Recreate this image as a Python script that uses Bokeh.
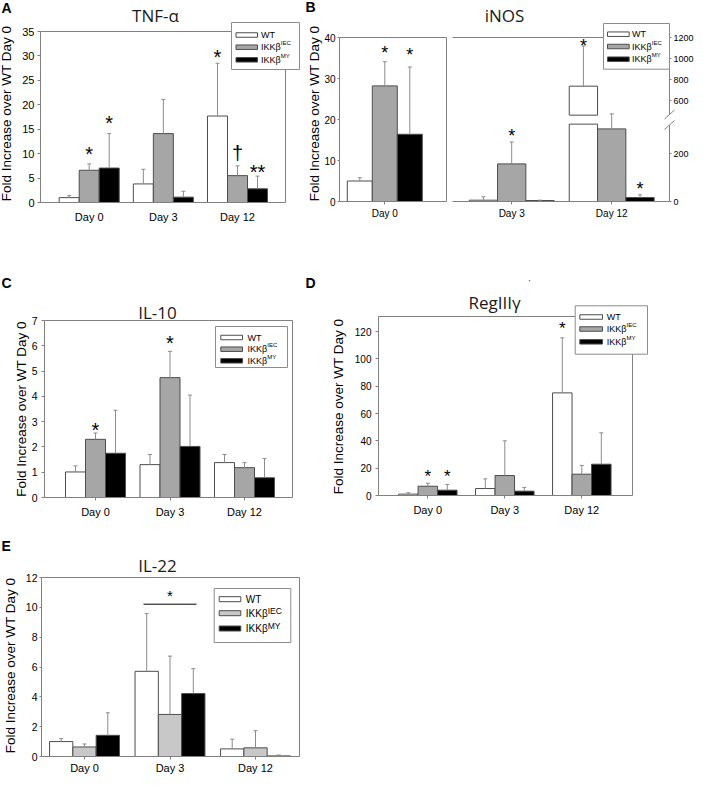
import math
from bokeh.plotting import figure
from bokeh.models import Range1d, LinearAxis, FixedTicker, Label, BoxAnnotation, Arrow
from bokeh.layouts import row, column
from bokeh.embed import file_html
from bokeh.resources import INLINE
from bokeh.core.properties import value

# ---------------- data ----------------
DAYS = ["Day 0", "Day 3", "Day 12"]
GENOTYPES = ["WT", "IKKβ", "IKKβ"]
GENOTYPE_SUPS = ["", "IEC", "MY"]
Y_TITLE = "Fold Increase over WT Day 0"

# A: TNF-alpha
TNF_WT = [1.0, 3.8, 17.7]
TNF_WT_SD = [0.4, 3.0, 10.8]
TNF_IEC = [6.6, 14.1, 5.5]
TNF_IEC_SD = [1.3, 7.0, 2.0]
TNF_MY = [7.05, 1.1, 2.8]
TNF_MY_SD = [7.05, 1.2, 2.6]
TNF_TICKS = [0, 5, 10, 15, 20, 25, 30, 35]
TNF_MARK_DAY = [0, 0, 2, 2, 2]
TNF_MARK_SERIES = [1, 2, 0, 1, 2]
TNF_MARK_TEXT = ["*", "*", "*", "†", "**"]
TNF_MARK_Y = [10.8, 17.05, 30.5, 9.9, 7.05]

# B: iNOS (Day 0 on its own axis, Day 3 / Day 12 on a broken axis)
INOS_WT = [5.0, 5.5, 740.0]
INOS_WT_SD = [0.8, 14.0, 380.0]
INOS_IEC = [28.2, 158.0, 305.0]
INOS_IEC_SD = [5.9, 92.0, 63.0]
INOS_MY = [16.4, 4.2, 16.8]
INOS_MY_SD = [16.4, 1.4, 11.2]
INOS_TICKS_DAY0 = [0, 10, 20, 30, 40]
INOS_TICKS_LOW = [0, 200]
INOS_TICKS_HIGH = [600, 800, 1000, 1200]
INOS_MARK_DAY = [0, 0, 1, 2, 2]
INOS_MARK_SERIES = [1, 2, 1, 0, 2]
INOS_MARK_TEXT = ["*", "*", "*", "*", "*"]
INOS_MARK_Y = [37.0, 36.5, 290.0, 1153.0, 66.0]

# C: IL-10
IL10_WT = [1.01, 1.3, 1.38]
IL10_WT_SD = [0.24, 0.4, 0.32]
IL10_IEC = [2.3, 4.74, 1.18]
IL10_IEC_SD = [0.25, 1.04, 0.2]
IL10_MY = [1.75, 2.02, 0.78]
IL10_MY_SD = [1.7, 2.03, 0.76]
IL10_TICKS = [0, 1, 2, 3, 4, 5, 6, 7]
IL10_MARK_DAY = [0, 1]
IL10_MARK_SERIES = [1, 1]
IL10_MARK_TEXT = ["*", "*"]
IL10_MARK_Y = [2.84, 6.26]

# D: RegIIIgamma
REG_WT = [1.0, 5.1, 75.1]
REG_WT_SD = [1.0, 7.1, 40.3]
REG_IEC = [6.8, 14.6, 15.6]
REG_IEC_SD = [2.2, 25.4, 6.4]
REG_MY = [3.9, 3.2, 22.9]
REG_MY_SD = [4.1, 2.7, 23.0]
REG_TICKS = [0, 20, 40, 60, 80, 100, 120]
REG_MARK_DAY = [0, 0, 2]
REG_MARK_SERIES = [1, 2, 0]
REG_MARK_TEXT = ["*", "*", "*"]
REG_MARK_Y = [16.6, 16.6, 125.0]

# E: IL-22
IL22_WT = [1.0, 5.71, 0.51]
IL22_WT_SD = [0.2, 3.87, 0.65]
IL22_IEC = [0.64, 2.82, 0.58]
IL22_IEC_SD = [0.2, 3.91, 1.15]
IL22_MY = [1.42, 4.22, 0.04]
IL22_MY_SD = [1.51, 1.67, 0.06]
IL22_TICKS = [0, 2, 4, 6, 8, 10, 12]
IL22_BRACKET_DAY = 1
IL22_BRACKET_Y = 10.21
IL22_BRACKET_STAR_Y = 11.0

# ---------------- styles ----------------
FRAME = "#808080"
BAR_LINE = "#4d4d4d"
ERR = "#8c8c8c"
LEG_LINE = "#8c8c8c"
WT_FILL = "white"
IEC_FILL = "#a6a6a6"
IEC_FILL_E = "#c8c8c8"
MY_FILL = "black"
SANS = "Liberation Sans"
TITLE_FONT = "Open Sans"
SHIFT = {"*": -0.2, "**": -0.2, "†": 0.08}


def build(canvas, c_px, c_idx, spacing, base_sy, ppu):
    """Figure whose frame is the whole canvas; X/Y convert reference pixels to data."""
    cx0, cy0, cx1, cy1 = canvas

    def X(sx):
        return c_idx + (sx - c_px) / spacing

    def Y(sy):
        return (base_sy - sy) / ppu

    p = figure(width=cx1 - cx0, height=cy1 - cy0, title=None,
               x_range=Range1d(X(cx0), X(cx1)), y_range=Range1d(Y(cy1), Y(cy0)),
               output_backend="svg", toolbar_location=None, tools="",
               x_axis_location=None, y_axis_location=None,
               min_border_left=0, min_border_right=0, min_border_top=0, min_border_bottom=0)
    p.outline_line_color = None
    p.grid.visible = False
    p.background_fill_color = "white"
    p.border_fill_color = "white"
    return p, X, Y


def axis(p, side, loc, bounds, ticks=(), size="0px", standoff=0, tick_out=0,
         overrides=None, rname=None, line=True):
    kw = {}
    if rname:
        kw["y_range_name"] = rname
    ax = LinearAxis(ticker=FixedTicker(ticks=list(ticks)), fixed_location=loc,
                    bounds=bounds, **kw)
    ax.axis_line_color = FRAME if line else None
    ax.axis_line_width = 1
    ax.major_tick_line_color = FRAME
    ax.major_tick_out = tick_out
    ax.major_tick_in = 0
    ax.minor_tick_out = 0
    ax.minor_tick_in = 0
    ax.major_label_text_font = SANS
    ax.major_label_text_font_size = size
    ax.major_label_text_color = "black"
    ax.major_label_standoff = standoff
    if overrides:
        ax.major_label_overrides = overrides
    p.add_layout(ax, side)


def box_frame(p, X, Y, frame, top_val, sides=("left", "below", "above", "right")):
    fx0, fy0, fx1, fy1 = frame
    if "above" in sides:
        axis(p, "above", Y(fy0), (X(fx0), X(fx1)))
    if "right" in sides:
        axis(p, "right", X(fx1), (0, top_val))


def draw_series(p, idx, vals, sds, fill, xoff, bw, cap, rname="default"):
    xs = [i + xoff for i in idx]
    p.vbar(x=xs, bottom=0, top=vals, width=bw, fill_color=fill,
           line_color=BAR_LINE, line_width=1, y_range_name=rname)
    draw_err(p, xs, vals, sds, cap, rname)


def draw_err(p, xs, vals, sds, cap, rname="default"):
    tops = [v + s for v, s in zip(vals, sds)]
    p.segment(x0=xs, y0=vals, x1=xs, y1=tops, line_color=ERR, line_width=1, y_range_name=rname)
    p.segment(x0=[x - cap for x in xs], y0=tops, x1=[x + cap for x in xs], y1=tops,
              line_color=ERR, line_width=1, y_range_name=rname)


def draw_marks(p, xs, ys, texts, size_px, ppu, rname="default"):
    yy = [y + SHIFT[t] * size_px / ppu for y, t in zip(ys, texts)]
    p.text(x=xs, y=yy, text=texts, text_font=value(SANS), text_font_size=f"{size_px}px",
           text_align="center", text_baseline="middle", text_color="black", y_range_name=rname)


def label(p, X, Y, sx, sy, text, font=SANS, size="14px", style="normal", align="left",
          angle=0.0, color="black"):
    p.add_layout(Label(x=X(sx), y=Y(sy), text=text, text_font=font, text_font_size=size,
                       text_font_style=style, text_align=align, text_baseline="middle",
                       angle=angle, text_color=color))


def draw_legend(p, X, Y, spec, fills):
    x0, y0, x1, y1 = spec["box"]
    p.add_layout(BoxAnnotation(left=X(x0), right=X(x1), top=Y(y0), bottom=Y(y1),
                               fill_color="white", fill_alpha=1.0, line_color=LEG_LINE,
                               line_alpha=1.0, line_width=1))
    h = spec["ph"] / 2.0
    for k, r in enumerate(spec["rows"]):
        p.add_layout(BoxAnnotation(left=X(spec["px"][0]), right=X(spec["px"][1]),
                                   top=Y(r - h), bottom=Y(r + h), fill_color=fills[k],
                                   fill_alpha=1.0, line_color=BAR_LINE, line_alpha=1.0,
                                   line_width=1))
        label(p, X, Y, spec["tx"], r, GENOTYPES[k], size=f"{spec['fs']}px")
        if GENOTYPE_SUPS[k]:
            w = 2.19 * spec["fs"]
            label(p, X, Y, spec["tx"] + w, r - spec["dy"], GENOTYPE_SUPS[k],
                  size=f"{spec['sfs']}px")


def decorate(p, X, Y, letter, letter_xy, title, title_xy, ylab_xy):
    label(p, X, Y, letter_xy[0], letter_xy[1], letter, size="14px", style="bold")
    if title:
        label(p, X, Y, title_xy[0], title_xy[1], title, font=TITLE_FONT, size="17px",
              align="center", color="#1a1a1a")
    if ylab_xy:
        label(p, X, Y, ylab_xy[0], ylab_xy[1], Y_TITLE, size="13.5px", align="center",
              angle=math.pi / 2)


def standard_panel(canvas, frame, ymax, c_px, spacing, bar_px, data, fills, yticks,
                   ytick_size, ytick_standoff, ytick_out, xsize, xstandoff, xtick_out,
                   marks, mark_size, legend, letter, letter_xy, title, title_xy, ylab_xy):
    fx0, fy0, fx1, fy1 = frame
    ppu = (fy1 - fy0) / ymax
    p, X, Y = build(canvas, c_px, 0, spacing, fy1, ppu)
    axis(p, "left", X(fx0), (0, ymax), yticks, ytick_size, ytick_standoff, ytick_out)
    axis(p, "below", 0, (X(fx0), X(fx1)), [0, 1, 2], xsize, xstandoff, xtick_out,
         overrides={i: DAYS[i] for i in range(3)})
    box_frame(p, X, Y, frame, ymax)
    bw = bar_px / spacing
    cap = 2.0 / spacing
    for k, (vals, sds) in enumerate(data):
        draw_series(p, [0, 1, 2], vals, sds, fills[k], (k - 1) * bw, bw, cap)
    if marks:
        mdays, mser, mtext, my = marks
        xs = [d + (s - 1) * bw for d, s in zip(mdays, mser)]
        draw_marks(p, xs, my, mtext, mark_size, ppu)
    draw_legend(p, X, Y, legend, fills)
    decorate(p, X, Y, letter, letter_xy, title, title_xy, ylab_xy)
    return p, X, Y, ppu, bw


FILLS = [WT_FILL, IEC_FILL, MY_FILL]
FILLS_E = [WT_FILL, IEC_FILL_E, MY_FILL]

# ---------------- A ----------------
pA, XA, YA, ppuA, bwA = standard_panel(
    (8, 8, 311, 246), (48, 39, 293, 210), 35, 96.7, 74.15, 20.0,
    [(TNF_WT, TNF_WT_SD), (TNF_IEC, TNF_IEC_SD), (TNF_MY, TNF_MY_SD)], FILLS,
    TNF_TICKS, "11px", 3, 3, "11px", 8, 0,
    (TNF_MARK_DAY, TNF_MARK_SERIES, TNF_MARK_TEXT, TNF_MARK_Y), 20,
    dict(box=(239, 30, 307, 77), rows=[42.5, 54.7, 67.3], px=(243.5, 265), tx=268.5,
         fs=9, sfs=6, dy=4, ph=4.5),
    "A", (9, 15), "TNF-α", (163, 23), (13.5, 121))

# ---------------- B (left: Day 0) ----------------
frBl = (347, 45, 454, 209)
ppuBl = (frBl[3] - frBl[1]) / 40.0
pBl, XBl, YBl = build((311, 8, 457, 246), 392.3, 0, 100.0, frBl[3], ppuBl)
axis(pBl, "left", XBl(frBl[0]), (0, 40), INOS_TICKS_DAY0, "10px", 2, 2)
axis(pBl, "below", 0, (XBl(frBl[0]), XBl(frBl[2])), [0], "10px", 3, 3, overrides={0: DAYS[0]})
box_frame(pBl, XBl, YBl, frBl, 40)
bwBl = 25.0 / 100.0
for k, (vals, sds) in enumerate([(INOS_WT, INOS_WT_SD), (INOS_IEC, INOS_IEC_SD), (INOS_MY, INOS_MY_SD)]):
    draw_series(pBl, [0], vals[:1], sds[:1], FILLS[k], (k - 1) * bwBl, bwBl, 0.02)
m0 = [i for i, d in enumerate(INOS_MARK_DAY) if d == 0]
draw_marks(pBl, [INOS_MARK_DAY[i] + (INOS_MARK_SERIES[i] - 1) * bwBl for i in m0],
           [INOS_MARK_Y[i] for i in m0], [INOS_MARK_TEXT[i] for i in m0], 18, ppuBl)
decorate(pBl, XBl, YBl, "B", (313, 14.5), None, None, (321.5, 121))

# ---------------- B (right: Day 3, Day 12, broken axis) ----------------
HI_BOTTOM, HI_TOP, HI_RATIO = -350.0, 1200.0, 2.25
LOW_CUT = 325.0
HI_START = 466.0
frBr = (460, 45, 677, 209)
ppuBr = (frBr[3] - frBr[1]) * HI_RATIO / (HI_TOP - HI_BOTTOM)
ppu_hi = ppuBr / HI_RATIO
pBr, XBr, YBr = build((457, 8, 702, 246), 519.2, 1, 100.0, frBr[3], ppuBr)
lo0, lo1 = YBr(246), YBr(8)
pBr.extra_y_ranges = {"hi": Range1d(HI_BOTTOM + lo0 * HI_RATIO, HI_BOTTOM + lo1 * HI_RATIO)}
low_as_hi = [HI_BOTTOM + t * HI_RATIO for t in INOS_TICKS_LOW]
axis(pBr, "right", XBr(frBr[2]), (HI_BOTTOM, HI_TOP), low_as_hi + INOS_TICKS_HIGH, "9px", 2, 2,
     overrides={h: str(t) for h, t in zip(low_as_hi, INOS_TICKS_LOW)}, rname="hi", line=False)
axis(pBr, "below", 0, (XBr(frBr[0]), XBr(frBr[2])), [1, 2], "10px", 3, 3,
     overrides={1: DAYS[1], 2: DAYS[2]})
box_frame(pBr, XBr, YBr, frBr, None, sides=("above",))
bwBr = 28.3 / 100.0
capBr = 0.02
for k, (vals, sds) in enumerate([(INOS_WT, INOS_WT_SD), (INOS_IEC, INOS_IEC_SD), (INOS_MY, INOS_MY_SD)]):
    idx = [1, 2]
    v = vals[1:]
    s = sds[1:]
    xs = [i + (k - 1) * bwBr for i in idx]
    pBr.vbar(x=xs, bottom=0, top=[min(a, LOW_CUT) for a in v], width=bwBr, fill_color=FILLS[k],
             line_color=BAR_LINE, line_width=1)
    hi_x = [x for x, a in zip(xs, v) if a > LOW_CUT]
    hi_v = [a for a in v if a > LOW_CUT]
    hi_s = [b for a, b in zip(v, s) if a > LOW_CUT]
    lo_x = [x for x, a in zip(xs, v) if a <= LOW_CUT]
    lo_v = [a for a in v if a <= LOW_CUT]
    lo_s = [b for a, b in zip(v, s) if a <= LOW_CUT]
    if hi_x:
        pBr.vbar(x=hi_x, bottom=HI_START, top=hi_v, width=bwBr, fill_color=FILLS[k],
                 line_color=BAR_LINE, line_width=1, y_range_name="hi")
        draw_err(pBr, hi_x, hi_v, hi_s, capBr, "hi")
    draw_err(pBr, lo_x, lo_v, lo_s, capBr)
for i, d in enumerate(INOS_MARK_DAY):
    if d == 0:
        continue
    xm = d + (INOS_MARK_SERIES[i] - 1) * bwBr
    if INOS_MARK_Y[i] > LOW_CUT:
        draw_marks(pBr, [xm], [INOS_MARK_Y[i]], [INOS_MARK_TEXT[i]], 18, ppu_hi, "hi")
    else:
        draw_marks(pBr, [xm], [INOS_MARK_Y[i]], [INOS_MARK_TEXT[i]], 18, ppuBr)
# broken right axis line and break marks
ax_x = XBr(frBr[2])
for (ys0, ys1) in [(209, 132.5), (122, 45)]:
    pBr.add_layout(Arrow(end=None, start=None, x_start=ax_x, y_start=YBr(ys0), x_end=ax_x,
                         y_end=YBr(ys1), line_color=FRAME, line_width=1))
for cy in [122, 132.5]:
    pBr.add_layout(Arrow(end=None, start=None, x_start=XBr(672), y_start=YBr(cy + 4.5),
                         x_end=XBr(682), y_end=YBr(cy - 4.5), line_color=FRAME, line_width=1))
draw_legend(pBr, XBr, YBr, dict(box=(611, 31, 677, 76.7), rows=[41.7, 54, 66.7], px=(615, 636.7),
                                tx=639.5, fs=9, sfs=6, dy=4, ph=4.5), FILLS)
label(pBr, XBr, YBr, 512, 23, "iNOS", font=TITLE_FONT, size="17px", align="center", color="#1a1a1a")

# ---------------- C ----------------
pC, XC, YC, ppuC, bwC = standard_panel(
    (8, 246, 310, 530), (52, 328, 300, 505), 7, 103.0, 74.5, 20.0,
    [(IL10_WT, IL10_WT_SD), (IL10_IEC, IL10_IEC_SD), (IL10_MY, IL10_MY_SD)], FILLS,
    IL10_TICKS, "10.5px", 4, 3, "11px", 5, 3,
    (IL10_MARK_DAY, IL10_MARK_SERIES, IL10_MARK_TEXT, IL10_MARK_Y), 20,
    dict(box=(223, 334, 295, 375), rows=[345, 356.7, 368.3], px=(228.3, 250), tx=255,
         fs=9, sfs=6, dy=4, ph=4.5),
    "C", (9, 290), "IL-10", (165, 320), (28.5, 416.5))

# ---------------- D ----------------
pD, XD, YD, ppuD, bwD = standard_panel(
    (310, 246, 702, 530), (386, 324, 640, 503), 131, 435.3, 77.0, 19.5,
    [(REG_WT, REG_WT_SD), (REG_IEC, REG_IEC_SD), (REG_MY, REG_MY_SD)], FILLS,
    REG_TICKS, "10px", 4, 3, "11px", 5, 3,
    (REG_MARK_DAY, REG_MARK_SERIES, REG_MARK_TEXT, REG_MARK_Y), 17,
    dict(box=(582.7, 313.3, 655, 361.7), rows=[324.5, 336.5, 349.3], px=(587.3, 610), tx=614.3,
         fs=9, sfs=6, dy=4, ph=4.5),
    "D", (313, 290), "RegIIIγ", (502, 310), (345.5, 414))
label(pD, XD, YD, 537, 290, "'", size="8px", align="center")

# ---------------- E ----------------
pE, XE, YE, ppuE, bwE = standard_panel(
    (8, 530, 310, 782), (49, 585, 307, 764), 12, 92.0, 85.5, 23.3,
    [(IL22_WT, IL22_WT_SD), (IL22_IEC, IL22_IEC_SD), (IL22_MY, IL22_MY_SD)], FILLS_E,
    IL22_TICKS, "10.5px", 2, 2, "11px", 2, 3,
    None, 15,
    dict(box=(221.7, 596, 298.3, 650), rows=[606.7, 620.7, 636], px=(226.7, 248.3), tx=253.3,
         fs=10, sfs=8.5, dy=2.5, ph=5),
    "E", (9, 553), "IL-22", (165, 573), (17.5, 673))
half = 0.31
pE.segment(x0=[IL22_BRACKET_DAY - half], x1=[IL22_BRACKET_DAY + half],
           y0=[IL22_BRACKET_Y], y1=[IL22_BRACKET_Y], line_color="black", line_width=1)
draw_marks(pE, [IL22_BRACKET_DAY], [IL22_BRACKET_STAR_Y], ["*"], 15, ppuE)

layout = column(row(pA, pBl, pBr), row(pC, pD), row(pE))
open("out.html", "w").write(file_html(layout, INLINE))
